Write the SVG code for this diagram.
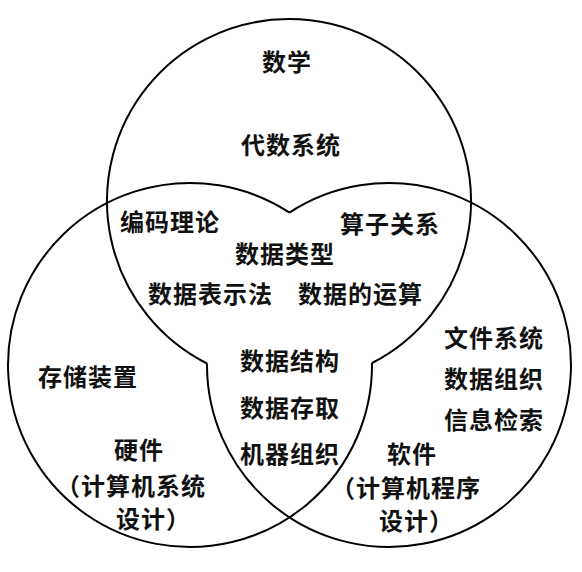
<svg xmlns="http://www.w3.org/2000/svg" width="582" height="572" viewBox="0 0 582 572">
<style>
.c{fill:none;stroke:#000;stroke-width:2;}
text{font-family:"Noto Sans CJK SC","Noto Sans CJK JP",sans-serif;font-size:24px;font-weight:700;letter-spacing:1px;fill:#111;dominant-baseline:central;}
</style>
<rect width="582" height="572" fill="#fff"/>
<g id="circles">
<path id="math" class="c" d="M207 363.5 A182 182 0 1 1 372 363"/>
<path id="hardware" class="c" d="M289.5 212.6 A182 182 0 1 0 372 363"/>
<path id="software" class="c" d="M289.5 212.6 A182 182 0 1 1 207 363.5"/>
</g>
<g id="labels">
<text x="262" y="60">数学</text>
<text x="241" y="143">代数系统</text>
<text x="120" y="220">编码理论</text>
<text x="340" y="222">算子关系</text>
<text x="235" y="252">数据类型</text>
<text x="148" y="292">数据表示法</text>
<text x="298" y="292">数据的运算</text>
<text x="240" y="359">数据结构</text>
<text x="240" y="406">数据存取</text>
<text x="240" y="452">机器组织</text>
<text x="38" y="375">存储装置</text>
<text x="114" y="448">硬件</text>
<text x="56" y="484">（计算机系统</text>
<text x="116" y="517">设计）</text>
<text x="444" y="336">文件系统</text>
<text x="444" y="377">数据组织</text>
<text x="444" y="418">信息检索</text>
<text x="387" y="452">软件</text>
<text x="331" y="486">（计算机程序</text>
<text x="379" y="519">设计）</text>
</g>
</svg>
